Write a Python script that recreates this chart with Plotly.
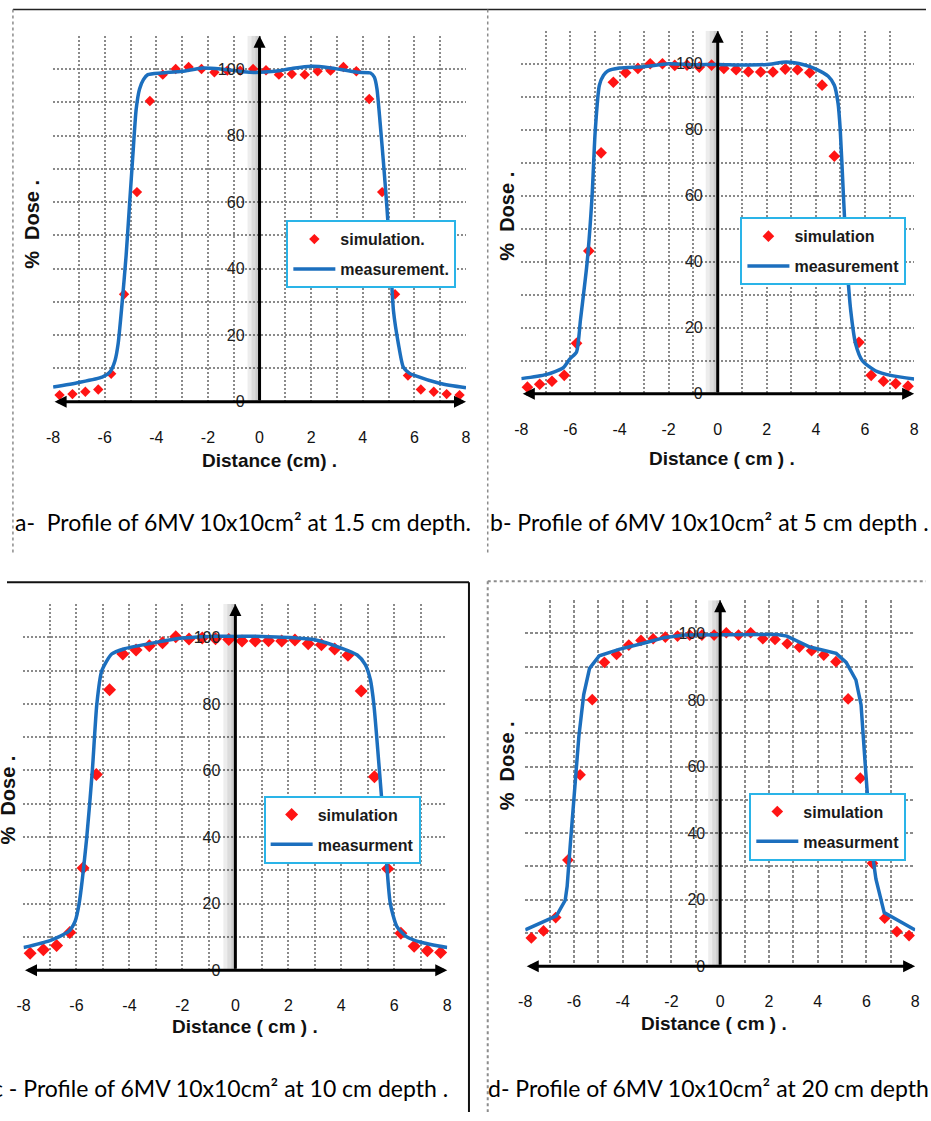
import plotly.graph_objects as go

W, H = 931, 1121

# ---------------- data ----------------
sim_x = [-7.75, -7.25, -6.75, -6.25, -5.75, -5.25, -4.75, -4.25, -3.75, -3.25, -2.75, -2.25,
         -1.75, -1.25, -0.75, -0.25, 0.25, 0.75, 1.25, 1.75, 2.25, 2.75, 3.25, 3.75,
         4.25, 4.75, 5.25, 5.75, 6.25, 6.75, 7.25, 7.75]

# (a) 1.5 cm depth
sim_a = [2.0, 2.3, 3.0, 3.7, 8.4, 32.3, 63.0, 90.4, 98.3, 100.0, 100.6, 100.0,
         99.0, 99.5, 99.5, 100.0, 99.6, 98.3, 98.5, 98.3, 99.3, 99.5, 100.6, 99.3,
         91.0, 63.0, 32.3, 7.9, 3.7, 3.0, 2.3, 2.0]
meas_a_x = [-8.0, -7.0, -6.1, -5.8, -5.6, -5.48, -5.33, -5.17, -5.04, -4.91, -4.78, -4.65,
            -4.5, -4.33, -3.8, -3.0, -2.2, -1.5, -0.4, 0.6, 1.3, 2.0, 2.7, 3.2, 3.8, 4.3,
            4.45, 4.55, 4.67, 4.8, 4.93, 5.06, 5.19, 5.38, 5.57, 5.8, 6.0, 7.0, 8.0]
meas_a_y = [4.4, 5.8, 7.4, 8.9, 12.4, 17.4, 29.3, 44.0, 59.0, 74.0, 88.0, 94.0,
            96.8, 98.3, 98.8, 99.3, 100.3, 100.0, 99.0, 99.3, 100.2, 100.8, 100.4, 99.8, 99.0, 98.8,
            97.5, 94.0, 84.0, 72.0, 59.0, 44.0, 27.3, 17.4, 10.4, 8.6, 7.9, 5.5, 4.2]

# (b) 5 cm depth
sim_b = [2.0, 2.9, 3.8, 5.6, 15.3, 43.3, 73.0, 94.4, 97.3, 98.6, 100.0, 100.0,
         99.5, 99.6, 99.0, 99.6, 98.6, 98.2, 97.6, 97.5, 97.5, 98.4, 98.2, 97.3,
         93.5, 72.0, 43.0, 15.6, 5.6, 3.8, 3.1, 2.3]
meas_b_x = [-8.0, -7.0, -6.29, -6.02, -5.75, -5.59, -5.32, -5.12, -4.99, -4.82, -4.65, -4.48,
            -4.0, -3.0, -2.0, -1.0, 0.0, 1.0, 2.0, 2.8, 3.5, 4.0, 4.5, 4.75, 4.9, 4.99,
            5.12, 5.26, 5.42, 5.62, 5.89, 6.42, 7.09, 8.0]
meas_b_y = [4.6, 5.8, 7.9, 10.6, 12.7, 22.4, 39.7, 59.6, 79.5, 93.5, 96.5, 97.8,
            98.7, 99.1, 100.0, 99.7, 99.8, 99.6, 99.8, 100.5, 99.7, 98.4, 96.2, 93.5, 88.0, 80.0,
            60.0, 40.0, 25.0, 15.0, 10.0, 7.0, 5.5, 4.5]

# (c) 10 cm depth
sim_c = [5.1, 6.1, 7.4, 11.3, 30.7, 58.8, 84.3, 95.0, 96.2, 97.5, 98.4, 100.2,
         99.5, 99.8, 99.6, 99.4, 98.9, 98.9, 99.0, 98.9, 99.2, 98.1, 97.8, 96.5,
         94.6, 83.9, 58.1, 30.5, 11.1, 7.2, 5.8, 5.3]
meas_c_x = [-8.0, -7.0, -6.3, -6.05, -5.9, -5.61, -5.4, -5.23, -5.05, -4.67, -4.18, -3.0,
            -2.0, -1.0, 0.0, 1.0, 2.0, 3.0, 4.0, 4.6, 4.9, 5.1, 5.23, 5.44, 5.64, 5.85,
            6.1, 6.47, 7.0, 8.0]
meas_c_y = [6.8, 8.9, 11.6, 14.7, 20.0, 40.0, 60.0, 80.0, 89.8, 95.0, 96.6, 98.5,
            99.8, 100.3, 100.3, 100.3, 100.0, 99.3, 96.8, 94.7, 91.9, 87.2, 79.8, 59.9, 39.9, 20.0,
            13.1, 10.0, 8.4, 6.8]

# (d) 20 cm depth
sim_d = [8.5, 10.6, 14.6, 31.9, 57.5, 80.1, 91.3, 93.7, 96.5, 97.9, 98.4, 98.9,
         99.2, 99.5, 99.5, 99.5, 100.2, 99.5, 100.2, 98.4, 98.2, 96.9, 95.9, 94.8,
         93.5, 91.5, 80.3, 56.5, 30.9, 14.4, 10.4, 9.2]
meas_d_x = [-8.0, -6.72, -6.36, -6.28, -6.15, -5.97, -5.8, -5.6, -5.36, -4.96, -4.15, -3.07,
            -2.26, -1.45, -0.37, 0.98, 2.33, 2.74, 3.68, 4.76, 5.17, 5.57, 5.78, 5.98,
            6.19, 6.39, 6.6, 6.73, 8.0]
meas_d_y = [10.9, 15.1, 19.8, 24.0, 36.6, 52.3, 69.0, 81.6, 89.5, 93.3, 95.2, 97.2,
            98.8, 99.5, 99.5, 99.7, 99.7, 99.2, 95.9, 94.0, 91.3, 86.0, 78.6, 57.7,
            36.7, 26.2, 19.8, 16.1, 10.9]

x_tickvals = [-8, -6, -4, -2, 0, 2, 4, 6, 8]
x_ticktext = ["-8", "-6", "-4", "-2", "0", "2", "4", "6", "8"]
y_tickvals = [0, 20, 40, 60, 80, 100]
y_ticktext = ["0", "20", "40", "60", "80", "100"]

captions = [
    "a-  Profile of 6MV 10x10cm\u00b2 at 1.5 cm depth.",
    "b- Profile of 6MV 10x10cm\u00b2 at 5 cm depth .",
    "c - Profile of 6MV 10x10cm\u00b2 at 10 cm depth .",
    "d- Profile of 6MV 10x10cm\u00b2 at 20 cm depth .",
]
sim_names = ["simulation.", "simulation", "simulation", "simulation"]
meas_names = ["measurement.", "measurement", "measurment", "measurment"]
x_titles = ["Distance (cm) .", "Distance ( cm ) .", "Distance ( cm ) .", "Distance ( cm ) ."]
y_title = "%  Dose ."

# ---------------- layout helpers (pixel -> paper) ----------------
def fx(p):
    return p / W


def fy(p):
    return 1 - p / H


RED = "#ff1414"
BLUE = "#1c6fbe"
CYAN = "#2ab4e8"
AX_FONT = "Liberation Sans, Arial, sans-serif"
CAP_FONT = "Lato, Open Sans, sans-serif"

# plot-area boxes in pixels: left(-8), right(8), top(110), bottom(0)
boxes = [
    dict(l=46.7, r=465.0, t=36.0, b=405.0),
    dict(l=521.0, r=919.0, t=31.0, b=397.0),
    dict(l=16.7, r=446.0, t=609.0, b=978.0),
    dict(l=525.0, r=920.0, t=605.0, b=974.0),
]
legend_pos = [(283, 222), (743, 219), (260, 802), (752, 799)]
ytitle_pos = [(26, 226), (507, 218), (1, 806), (506, 772)]
xtitle_pos = [(266, 464), (724, 462), (241, 1035), (716, 1032)]
caption_pos = [(6, 526, "left"), (487, 526, "left"), (449, 1097, "right"), (485, 1097, "left")]
line_shapes = ["spline", "spline", "spline", "linear"]
grid_dash = ["2px,2px", "2px,2px", "2px,2px", "3px,2px"]
marker_size = [8, 9, 10, 9]

series = [
    (sim_a, meas_a_x, meas_a_y),
    (sim_b, meas_b_x, meas_b_y),
    (sim_c, meas_c_x, meas_c_y),
    (sim_d, meas_d_x, meas_d_y),
]

fig = go.Figure()
shapes = []
annotations = []
layout = dict(
    width=W, height=H,
    margin=dict(l=0, r=0, t=0, b=0),
    paper_bgcolor="white", plot_bgcolor="white",
    showlegend=True,
)

for i, (sim_y, mx, my) in enumerate(series):
    n = i + 1
    xa = "x" if n == 1 else f"x{n}"
    ya = "y" if n == 1 else f"y{n}"
    lg = "legend" if n == 1 else f"legend{n}"
    box = boxes[i]

    fig.add_trace(go.Scatter(
        x=sim_x, y=sim_y, mode="markers", name=sim_names[i],
        marker=dict(symbol="diamond", size=marker_size[i], color=RED, line=dict(width=0)),
        xaxis=xa, yaxis=ya, legend=lg, legendgroup=f"s{n}", cliponaxis=False,
    ))
    fig.add_trace(go.Scatter(
        x=mx, y=my, mode="lines", name=meas_names[i],
        line=dict(color=BLUE, width=3.5, shape=line_shapes[i], smoothing=0.6),
        xaxis=xa, yaxis=ya, legend=lg, legendgroup=f"m{n}", cliponaxis=False,
    ))

    xdom = [fx(box["l"]), fx(box["r"])]
    ydom = [fy(box["b"]), fy(box["t"])]
    grid = dict(showgrid=True, gridcolor="#8a8a8a", gridwidth=1.5, griddash=grid_dash[i])
    layout["xaxis" if n == 1 else f"xaxis{n}"] = dict(
        domain=xdom, range=[-8, 8], anchor=ya,
        tickmode="array", tickvals=x_tickvals, ticktext=x_ticktext,
        ticks="", ticklabelstandoff=24,
        tickfont=dict(family=AX_FONT, size=16, color="#111"),
        zeroline=False, showline=False,
        minor=dict(dtick=1, tick0=0, **grid), **grid,
    )
    layout["yaxis" if n == 1 else f"yaxis{n}"] = dict(
        domain=ydom, range=[0, 110], anchor="free", position=(xdom[0] + xdom[1]) / 2,
        tickmode="array", tickvals=y_tickvals, ticktext=y_ticktext,
        ticks="", ticklabelstandoff=15,
        tickfont=dict(family=AX_FONT, size=16, color="#222"),
        zeroline=False, showline=False,
        minor=dict(dtick=10, tick0=0, **grid), **grid,
    )
    lx, ly = legend_pos[i]
    layout[lg] = dict(
        x=fx(lx), y=fy(ly), xanchor="left", yanchor="top",
        bgcolor="white", bordercolor=CYAN, borderwidth=2,
        font=dict(family=AX_FONT, size=16, color="#1a1a1a", weight="bold"),
        itemwidth=42, tracegroupgap=6, traceorder="grouped",
    )

    # soft shadows along the axes
    for k in (4, 8, 12):
        shapes.append(dict(type="rect", xref=xa, yref=ya, xsizemode="pixel", xanchor=0,
                           x0=-k, x1=0, y0=0, y1=110, line=dict(width=0),
                           fillcolor="rgba(0,0,0,0.07)", layer="between"))
        shapes.append(dict(type="rect", xref=xa, yref=ya, ysizemode="pixel", yanchor=0,
                           y0=-k, y1=0, x0=-8, x1=8, line=dict(width=0),
                           fillcolor="rgba(0,0,0,0.07)", layer="between"))

    # axis arrows
    annotations.append(dict(xref=xa, yref=ya, axref=xa, ayref=ya, x=8, y=0, ax=-8, ay=0,
                            text="", showarrow=True, arrowside="end+start",
                            arrowhead=2, startarrowhead=2, arrowsize=0.8, startarrowsize=0.8,
                            arrowwidth=3, arrowcolor="black"))
    annotations.append(dict(xref=xa, yref=ya, axref=xa, ayref=ya, x=0, y=110, ax=0, ay=0,
                            text="", showarrow=True, arrowhead=2, arrowsize=0.8,
                            arrowwidth=3, arrowcolor="black"))

    # axis titles
    tx, ty = xtitle_pos[i]
    annotations.append(dict(xref="paper", yref="paper", x=fx(tx), y=fy(ty), text=x_titles[i],
                            showarrow=False, xanchor="center", yanchor="middle",
                            font=dict(family=AX_FONT, size=19, color="#111", weight="bold")))
    tx, ty = ytitle_pos[i]
    annotations.append(dict(xref="paper", yref="paper", x=fx(tx), y=fy(ty), text=y_title,
                            showarrow=False, xanchor="center", yanchor="middle", textangle=-90,
                            font=dict(family=AX_FONT, size=20, color="#111", weight="bold")))
    # caption
    cx, cy, anc = caption_pos[i]
    annotations.append(dict(xref="paper", yref="paper", x=fx(cx), y=fy(cy), text=captions[i],
                            showarrow=False, xanchor=anc, yanchor="middle",
                            font=dict(family=CAP_FONT, size=23, color="#000")))

# panel frames
def seg(x0, y0, x1, y1, color, width, dash="solid"):
    return dict(type="line", xref="paper", yref="paper", x0=fx(x0), y0=fy(y0), x1=fx(x1), y1=fy(y1),
                line=dict(color=color, width=width, dash=dash), layer="above")

shapes += [
    seg(6, 9.5, 931, 9.5, "#222", 1.5),
    seg(6, 9.5, 6, 560, "#8c8c8c", 1.5, "dot"),
    seg(487, 9.5, 487, 560, "#8c8c8c", 1.5, "dot"),
    seg(0, 587, 468, 587, "#111", 2),
    seg(468, 587, 468, 1121, "#111", 2),
    seg(487, 586, 931, 586, "#8c8c8c", 2, "dot"),
    seg(487, 586, 487, 1121, "#8c8c8c", 2, "dot"),
]

layout["shapes"] = shapes
layout["annotations"] = annotations
fig.update_layout(**layout)
fig.write_html("out.html")
